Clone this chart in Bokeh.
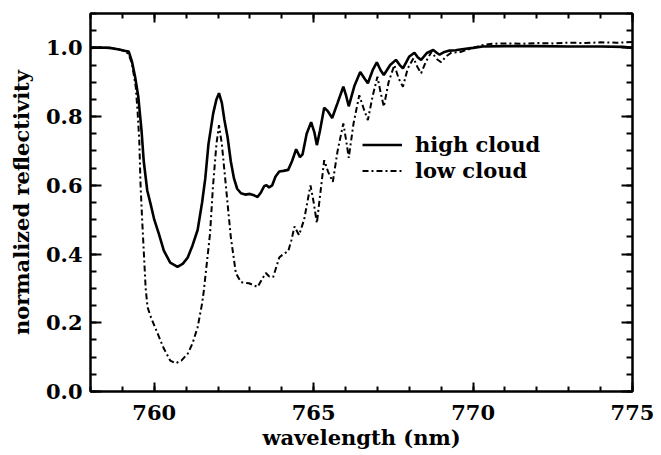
from bokeh.plotting import figure
from bokeh.models import (Range1d, LinearAxis, SingleIntervalTicker, PrintfTickFormatter,
                          Legend, LegendItem)
from bokeh.embed import file_html
from bokeh.resources import INLINE

# ---- data ----
high_wl = [758.0, 758.3, 758.6, 758.9, 759.1, 759.2, 759.3, 759.4, 759.5, 759.6, 759.67, 759.78,
           759.9, 760.0, 760.14, 760.3, 760.5, 760.73, 760.9, 761.05, 761.2, 761.36, 761.5, 761.6,
           761.7, 761.85, 761.95, 762.03, 762.12, 762.2, 762.3, 762.4, 762.5, 762.6, 762.72, 762.85,
           763.0, 763.1, 763.24, 763.35, 763.45, 763.52, 763.6, 763.7, 763.8, 763.92, 764.05, 764.2,
           764.32, 764.45, 764.57, 764.65, 764.78, 764.92, 765.02, 765.1, 765.2, 765.33, 765.45,
           765.58, 765.75, 765.93, 766.02, 766.1, 766.28, 766.46, 766.6, 766.7, 766.85, 766.98,
           767.1, 767.2, 767.4, 767.58, 767.7, 767.8, 768.0, 768.16, 768.27, 768.37, 768.55, 768.75,
           768.87, 768.95, 769.1, 769.26, 769.45, 769.6, 770.0, 770.3, 771.0, 772.0, 773.0, 774.0,
           774.7, 775.0]
high_refl = [1.000, 1.001, 1.000, 0.995, 0.991, 0.989, 0.960, 0.915, 0.857, 0.760, 0.670, 0.585,
             0.540, 0.500, 0.460, 0.410, 0.375, 0.363, 0.372, 0.390, 0.425, 0.470, 0.550, 0.620,
             0.720, 0.810, 0.850, 0.868, 0.840, 0.790, 0.740, 0.670, 0.620, 0.590, 0.577, 0.573,
             0.575, 0.572, 0.566, 0.580, 0.598, 0.600, 0.594, 0.600, 0.625, 0.640, 0.642, 0.645,
             0.670, 0.705, 0.682, 0.690, 0.750, 0.784, 0.755, 0.717, 0.760, 0.826, 0.815,
             0.796, 0.840, 0.887, 0.860, 0.830, 0.890, 0.930, 0.910, 0.897, 0.935, 0.958,
             0.935, 0.921, 0.950, 0.965, 0.950, 0.940, 0.975, 0.986, 0.972, 0.965, 0.985, 0.994,
             0.985, 0.980, 0.988, 0.992, 0.993, 0.995, 1.000, 1.004, 1.005, 1.005, 1.004, 1.004,
             1.003, 1.000]

low_wl = [758.0, 758.3, 758.6, 758.9, 759.1, 759.2, 759.3, 759.42, 759.48, 759.53, 759.57, 759.62,
          759.67, 759.73, 759.79, 759.9, 760.1, 760.3, 760.5, 760.67, 760.85, 761.05, 761.2, 761.36,
          761.5, 761.55, 761.68, 761.75, 761.84, 761.95, 762.03, 762.12, 762.25, 762.4, 762.56,
          762.72, 762.97, 763.1, 763.24, 763.4, 763.5, 763.6, 763.73, 763.92, 764.05, 764.2, 764.3,
          764.4, 764.54, 764.7, 764.9, 765.0, 765.1, 765.2, 765.33, 765.45, 765.6, 765.75, 765.93,
          766.02, 766.1, 766.25, 766.43, 766.58, 766.7, 766.85, 767.0, 767.1, 767.2, 767.35,
          767.53, 767.67, 767.8, 767.95, 768.13, 768.25, 768.37, 768.52, 768.7, 768.85, 769.0,
          769.15, 769.32, 769.6, 770.0, 770.3, 770.6, 771.0, 771.5, 772.0, 772.5, 773.0, 773.5,
          774.0, 774.5, 775.0]
low_refl = [1.000, 1.001, 1.000, 0.995, 0.990, 0.980, 0.955, 0.886, 0.810, 0.730, 0.600, 0.500,
            0.410, 0.300, 0.245, 0.215, 0.170, 0.125, 0.090, 0.082, 0.090, 0.110, 0.140, 0.187,
            0.256, 0.290, 0.400, 0.460, 0.595, 0.720, 0.775, 0.720, 0.595, 0.450, 0.344,
            0.318, 0.315, 0.310, 0.304, 0.330, 0.345, 0.335, 0.333, 0.390, 0.400, 0.408, 0.440,
            0.480, 0.455, 0.500, 0.600, 0.550, 0.490, 0.570, 0.673, 0.640, 0.610, 0.700, 0.780,
            0.730, 0.680, 0.780, 0.862, 0.820, 0.790, 0.860, 0.916, 0.870, 0.829, 0.900,
            0.950, 0.910, 0.887, 0.940, 0.970, 0.945, 0.926, 0.960, 0.989, 0.968, 0.958,
            0.975, 0.986, 0.988, 1.000, 1.008, 1.012, 1.013, 1.012, 1.014, 1.013, 1.015, 1.014,
            1.016, 1.015, 1.017]

series_labels = ["high cloud", "low cloud"]
x_label = "wavelength (nm)"
y_label = "normalized reflectivity"

FONT = "DejaVu Serif"

p = figure(width=661, height=455, output_backend="svg", toolbar_location=None,
           x_range=Range1d(758, 775), y_range=Range1d(0, 1.1),
           x_axis_location=None, y_axis_location=None,
           min_border_left=90, min_border_right=29, min_border_top=13, min_border_bottom=64)
p.grid.visible = False
p.outline_line_color = "black"
p.outline_line_width = 2
p.background_fill_color = "white"
p.border_fill_color = "white"


def make_axis(kind, labels):
    if kind == "x":
        ax = LinearAxis(ticker=SingleIntervalTicker(interval=5, num_minor_ticks=5))
        ax.major_tick_in = 9
        ax.minor_tick_in = 5
    else:
        ax = LinearAxis(ticker=SingleIntervalTicker(interval=0.2, num_minor_ticks=4),
                        formatter=PrintfTickFormatter(format="%.1f"))
        ax.major_tick_in = 11
        ax.minor_tick_in = 6
    ax.major_tick_out = 0
    ax.minor_tick_out = 0
    ax.axis_line_width = 2
    ax.major_tick_line_width = 2
    ax.minor_tick_line_width = 2
    ax.major_label_text_font = FONT
    ax.major_label_text_font_style = "bold"
    ax.major_label_text_font_size = "21px"
    ax.major_label_text_color = "black"
    ax.axis_label_text_font = FONT
    ax.axis_label_text_font_style = "bold"
    ax.axis_label_text_font_size = "21px"
    ax.axis_label_text_color = "black"
    if not labels:
        ax.major_label_text_color = None
        ax.major_label_standoff = 0
    return ax


xb = make_axis("x", True)
xb.axis_label = x_label
xb.major_label_standoff = 13
xb.axis_label_standoff = 2
p.add_layout(xb, "below")

yl = make_axis("y", True)
yl.axis_label = y_label
yl.major_label_standoff = 8
yl.axis_label_standoff = 9
p.add_layout(yl, "left")

xt = make_axis("x", False)
p.add_layout(xt, "above")
yr = make_axis("y", False)
p.add_layout(yr, "right")

r_high = p.line(high_wl, high_refl, line_color="black", line_width=2.6)
r_low = p.line(low_wl, low_refl, line_color="black", line_width=2, line_dash="6 3 2 3")

legend = Legend(items=[LegendItem(label=series_labels[0], renderers=[r_high]),
                       LegendItem(label=series_labels[1], renderers=[r_low])],
                location=(272, 208), padding=0, margin=0, spacing=1,
                glyph_width=40, glyph_height=19, label_height=19, label_standoff=13,
                label_text_font=FONT, label_text_font_style="bold",
                label_text_font_size="21px", label_text_color="black",
                border_line_color=None, background_fill_alpha=0)
p.add_layout(legend, "center")

open("out.html", "w").write(file_html(p, INLINE))
